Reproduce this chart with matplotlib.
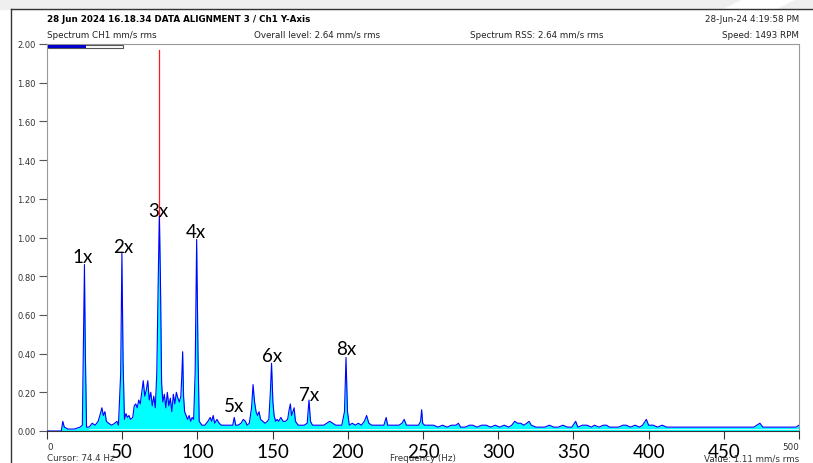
import matplotlib.pyplot as plt
from matplotlib.patches import Rectangle, Polygon
from matplotlib.lines import Line2D

# spectrum (Hz, mm/s rms)
freq = [0, 9.5, 10.5, 11.5, 14, 18, 22, 23.5, 24.2, 24.9, 25.5, 26.3, 28, 30, 32, 34, 35.5, 36.5, 37.5, 38.5,
        39.5, 41, 43, 45, 46.5, 47.5, 49, 49.8, 50.6, 51.5, 52.5, 53.5, 54.5, 55.5, 57, 58, 59, 60, 61, 62,
        63, 64, 65, 66, 67, 68, 69, 70, 71, 72, 73, 74.1, 74.7, 75.4, 76.2, 77, 78, 79, 80, 81,
        82, 83, 84, 85, 86, 87, 88, 89, 89.7, 90.2, 90.8, 91.5, 92.5, 93.5, 94.5, 95.5, 96.5, 97.5, 98.5, 99.5,
        100.4, 101.2, 103, 105, 107, 108.5, 109.5, 110.5, 111.5, 113, 114.5, 116, 118, 120, 122, 123.5, 124.5, 125.5, 127, 129,
        130.5, 132, 133, 134.5, 136, 137, 138, 139, 140, 141, 142, 143.5, 145, 146.5, 147.5, 148.5, 149.3, 150.2, 151, 152,
        153, 154, 155.5, 157, 158.5, 160, 161, 161.8, 162.6, 163.5, 164.3, 165.2, 167, 169, 171, 173, 174.2, 175.2, 176.5, 178,
        180, 182, 184, 186, 188, 190, 192, 194, 196, 197.8, 198.8, 199.8, 201, 203, 205, 207, 209, 211, 212.5, 214,
        216, 218, 220, 222, 224, 225.5, 226.5, 228, 230, 232, 234, 236, 237.5, 239, 241, 243, 245, 247, 248.4, 249.1,
        249.8, 251, 254, 257, 260, 263, 266, 269, 272, 273.5, 275, 278, 281, 283, 286, 289, 292, 295, 298, 301,
        304, 307, 309, 311, 313, 315, 317, 319, 320.5, 322, 325, 328, 331, 334, 337, 340, 343, 346, 349, 351.5,
        353, 356, 359, 362, 364, 367, 370, 372, 374, 377, 380, 383, 385, 388, 391, 394, 396, 398.5, 400, 403,
        406, 409, 412, 415, 418, 421, 424, 428, 432, 436, 440, 445, 450, 455, 460, 465, 470, 474, 476, 480,
        485, 490, 495, 498, 500]
amp = [0.0, 0.0, 0.05, 0.02, 0.01, 0.01, 0.02, 0.03, 0.45, 0.86, 0.40, 0.02, 0.02, 0.04, 0.03, 0.05, 0.09, 0.12, 0.08, 0.10,
       0.05, 0.04, 0.03, 0.04, 0.05, 0.03, 0.30, 0.92, 0.35, 0.06, 0.09, 0.07, 0.08, 0.06, 0.07, 0.13, 0.14, 0.12, 0.16, 0.14,
       0.20, 0.26, 0.18, 0.21, 0.26, 0.16, 0.20, 0.13, 0.18, 0.12, 0.30, 0.85, 1.11, 0.80, 0.25, 0.15, 0.19, 0.12, 0.20, 0.13,
       0.17, 0.10, 0.19, 0.14, 0.20, 0.17, 0.15, 0.18, 0.30, 0.41, 0.18, 0.10, 0.08, 0.06, 0.08, 0.05, 0.07, 0.06, 0.30, 0.99,
       0.40, 0.05, 0.03, 0.03, 0.05, 0.07, 0.05, 0.08, 0.04, 0.06, 0.04, 0.03, 0.03, 0.03, 0.03, 0.03, 0.07, 0.03, 0.03, 0.04,
       0.06, 0.05, 0.03, 0.04, 0.12, 0.24, 0.15, 0.10, 0.08, 0.10, 0.06, 0.05, 0.04, 0.05, 0.06, 0.20, 0.35, 0.15, 0.08, 0.05,
       0.06, 0.05, 0.07, 0.05, 0.05, 0.06, 0.11, 0.14, 0.08, 0.10, 0.12, 0.05, 0.03, 0.03, 0.03, 0.04, 0.16, 0.05, 0.03, 0.03,
       0.03, 0.03, 0.03, 0.04, 0.05, 0.04, 0.03, 0.03, 0.03, 0.10, 0.38, 0.10, 0.03, 0.04, 0.03, 0.04, 0.03, 0.05, 0.08, 0.04,
       0.03, 0.03, 0.03, 0.03, 0.03, 0.07, 0.03, 0.03, 0.03, 0.03, 0.03, 0.04, 0.06, 0.03, 0.03, 0.03, 0.03, 0.03, 0.05, 0.11,
       0.04, 0.03, 0.03, 0.03, 0.02, 0.03, 0.02, 0.03, 0.03, 0.04, 0.02, 0.02, 0.03, 0.03, 0.02, 0.03, 0.03, 0.02, 0.03, 0.02,
       0.03, 0.02, 0.03, 0.05, 0.04, 0.04, 0.03, 0.04, 0.05, 0.03, 0.02, 0.02, 0.02, 0.03, 0.02, 0.02, 0.03, 0.02, 0.02, 0.05,
       0.02, 0.03, 0.03, 0.02, 0.03, 0.02, 0.03, 0.03, 0.02, 0.02, 0.02, 0.03, 0.03, 0.02, 0.03, 0.02, 0.03, 0.06, 0.03, 0.03,
       0.02, 0.03, 0.02, 0.02, 0.02, 0.02, 0.02, 0.02, 0.02, 0.02, 0.02, 0.02, 0.02, 0.02, 0.02, 0.02, 0.02, 0.04, 0.02, 0.02,
       0.02, 0.02, 0.02, 0.02, 0.03]

orders = ['1x', '2x', '3x', '4x', '5x', '6x', '7x', '8x']
order_f = [23.9, 50.5, 73.8, 99.1, 124.3, 149.6, 174.2, 198.8]
order_v = [0.904, 0.956, 1.137, 1.029, 0.134, 0.388, 0.191, 0.424]

cursor_f = 74.4
cursor_top = 1.97

W, H = 813, 464
fig = plt.figure(figsize=(8.13, 4.64), dpi=100)

def fx(px):
    return px / W

def fy(py):
    return 1 - py / H

# background band + panel frame
fig.patches.append(Rectangle((0, fy(10)), 1, 10 / H, transform=fig.transFigure, color='#efefef', zorder=0))
fig.patches.append(Polygon([(fx(745), fy(0)), (fx(795), fy(0)), (fx(775), fy(10)), (fx(725), fy(10))],
                           closed=True, transform=fig.transFigure, color='white', zorder=0))
fig.lines.append(Line2D([fx(11), 1], [fy(10), fy(10)], transform=fig.transFigure, color='#333333', lw=1))
fig.lines.append(Line2D([fx(11), fx(11)], [fy(10), 0], transform=fig.transFigure, color='#333333', lw=1))

ax = fig.add_axes([fx(47), fy(432), fx(799) - fx(47), (432 - 45) / H])

ax.plot([cursor_f, cursor_f], [0, cursor_top], color='#ff1a1a', lw=0.9, zorder=1)
ax.fill_between(freq, amp, 0, color='#00ffff', lw=0, zorder=2)
ax.plot(freq, amp, color='#0000ff', lw=0.8, zorder=3)
ax.plot([28, 500], [0.012, 0.012], color='white', lw=0.5, zorder=3)

ax.set_xlim(0, 500)
ax.set_ylim(0, 2.0)
ax.set_yticks([i * 0.2 for i in range(11)])
ax.set_yticklabels(['%.2f' % (i * 0.2) for i in range(11)])
ax.set_xticks(range(0, 501, 50))
ax.set_xticklabels([''] + [str(v) for v in range(50, 500, 50)] + [''])
ax.tick_params(axis='y', length=6, width=0.8, color='#555555', labelsize=6, labelcolor='#333333', pad=2)
ax.tick_params(axis='x', length=6, width=0.8, color='#333333', labelsize=13.5, pad=2.5)
for lab in ax.get_xticklabels():
    lab.set_family('Lato')
for s in ['left', 'top', 'right']:
    ax.spines[s].set_color('#999999')
ax.spines['bottom'].set_color('#333333')

for name, f, v in zip(orders, order_f, order_v):
    ax.text(f, v, name, ha='center', va='center', fontsize=13.5, family='Lato', zorder=5)

# scale bar at top-left
fig.patches.append(Rectangle((fx(48), fy(49)), fx(123) - fx(48), 3 / H, transform=fig.transFigure,
                             facecolor='white', edgecolor='#555555', lw=0.8, zorder=5))
fig.patches.append(Rectangle((fx(48), fy(49)), fx(86) - fx(48), 3 / H, transform=fig.transFigure,
                             facecolor='#0000cc', lw=0, zorder=6))

fs = 6.3
fig.text(fx(47), fy(20), '28 Jun 2024 16.18.34 DATA ALIGNMENT 3 / Ch1 Y-Axis', fontsize=fs, weight='bold', va='center')
fig.text(fx(47), fy(35), 'Spectrum CH1 mm/s rms', fontsize=fs, va='center', color='#222222')
fig.text(fx(254), fy(35), 'Overall level: 2.64 mm/s rms', fontsize=fs, va='center', color='#222222')
fig.text(fx(470), fy(35), 'Spectrum RSS: 2.64 mm/s rms', fontsize=fs, va='center', color='#222222')
fig.text(fx(799), fy(20), '28-Jun-24 4:19:58 PM', fontsize=fs, va='center', ha='right', color='#222222')
fig.text(fx(799), fy(35), 'Speed: 1493 RPM', fontsize=fs, va='center', ha='right', color='#222222')

fig.text(fx(47), fy(448), '0', fontsize=fs, va='center', color='#333333')
fig.text(fx(799), fy(448), '500', fontsize=fs, va='center', ha='right', color='#333333')
fig.text(fx(47), fy(459), 'Cursor: 74.4 Hz', fontsize=fs, va='center', color='#333333')
fig.text(fx(423), fy(459), 'Frequency (Hz)', fontsize=fs, va='center', ha='center', color='#333333')
fig.text(fx(799), fy(459), 'Value: 1.11 mm/s rms', fontsize=fs, va='center', ha='right', color='#333333')

fig.savefig('out.png', dpi=100)
